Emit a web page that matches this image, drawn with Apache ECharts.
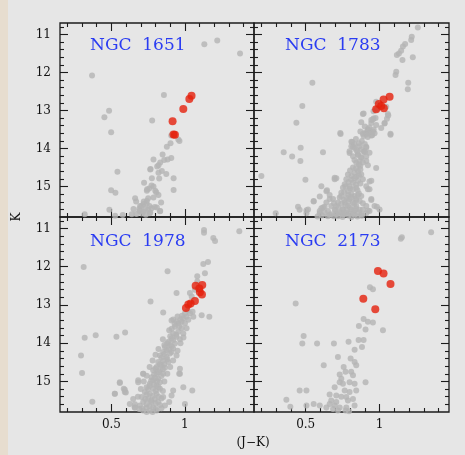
<!DOCTYPE html>
<html>
<head>
<meta charset="utf-8">
<script src="https://cdn.jsdelivr.net/npm/echarts@6/dist/echarts.min.js"></script>
<style>
  html, body { margin: 0; padding: 0; background: #e6e6e6; }
  #chart { width: 465px; height: 455px; }
</style>
</head>
<body>
<div id="chart"></div>
<script>
// Near-infrared colour-magnitude diagrams, K vs (J-K), for four LMC clusters.
// Each entry is [J-K, K]. Red points are the carbon/AGB stars.

const clusterNames = ['NGC  1651', 'NGC  1783', 'NGC  1978', 'NGC  2173'];

const ngc1651Gray = [
  [1.132,11.26],[1.22,11.16],[1.375,11.50],[0.368,12.08],[0.857,12.59],[0.484,13.01],[0.452,13.18],
  [0.498,13.57],[0.777,13.26],[0.907,13.66],[0.963,13.80],[0.955,13.76],[0.902,13.86],[0.877,13.95],
  [0.848,14.16],[0.786,14.29],[0.907,14.25],[0.882,14.29],[0.832,14.37],[0.82,14.44],[0.764,14.55],
  [0.843,14.59],[0.873,14.67],[0.82,14.64],[0.541,14.61],[0.923,14.78],[0.775,14.78],[0.825,14.79],
  [0.722,14.90],[0.786,15.00],[0.757,15.05],[0.741,15.11],[0.798,15.11],[0.923,15.09],[0.498,15.10],
  [0.527,15.16],[0.82,15.22],[0.661,15.31],[0.668,15.39],[0.786,15.29],[0.741,15.38],[0.718,15.46],
  [0.695,15.51],[0.759,15.51],[0.838,15.42],[0.809,15.55],[0.729,15.59],[0.691,15.64],[0.65,15.59],
  [0.638,15.73],[0.707,15.71],[0.764,15.68],[0.832,15.64],[0.486,15.61],[0.577,15.75],[0.525,15.77],
  [0.318,15.73],[0.67,15.72],[0.734,15.74],[0.75,15.61],[0.716,15.66],[0.689,15.59],[0.705,15.51],
  [0.739,15.45],[0.72,15.39],[0.75,15.31],[0.773,15.57],[0.795,15.54],[0.83,15.65],[0.761,15.70],
  [0.805,15.15],[0.743,15.07],[0.773,14.97],[0.766,14.54],[0.811,14.47],[0.859,14.30]
];
const ngc1651Red = [
  [1.045,12.61],[1.03,12.70],[0.989,12.96],[0.916,13.28],[0.922,13.63],[0.932,13.64]
];

const ngc1783Gray = [
  [1.259,10.82],[1.218,11.06],[1.214,11.15],[1.173,11.25],[1.158,11.32],[1.146,11.43],[1.131,11.50],
  [1.117,11.54],[1.155,11.67],[1.225,11.60],[1.113,11.98],[1.108,12.07],[1.194,12.27],[1.191,12.44],
  [0.545,12.27],[0.477,12.88],[0.437,13.32],[0.977,12.77],[1.045,12.90],[0.887,13.09],[1.056,13.09],
  [0.959,13.21],[0.944,13.25],[1.034,13.34],[0.977,13.38],[0.921,13.49],[0.91,13.60],[0.937,13.56],
  [0.966,13.60],[0.892,13.67],[0.736,13.62],[1.074,13.64],[0.466,13.98],[0.351,14.10],[0.408,14.21],
  [0.464,14.33],[0.617,14.10],[0.809,13.82],[0.82,13.95],[0.842,14.04],[0.91,13.95],[0.892,14.08],
  [0.854,14.17],[0.876,14.23],[0.91,14.21],[0.797,14.12],[0.2,14.72],[0.498,14.82],[0.448,15.53],
  [0.459,15.61],[0.516,15.60],[0.554,15.39],[0.595,15.26],[0.644,15.10],[0.662,15.22],[0.707,14.78],
  [0.606,15.57],[0.297,15.70],[0.932,14.87],[0.921,15.07],[0.944,15.35],[0.921,15.63],[0.982,15.53],
  [0.842,15.35],[0.887,15.44],[0.854,15.22],
  [0.892,13.08],[0.959,13.02],[0.982,12.96],[0.876,13.31],[0.944,13.33],[0.955,13.24],[0.973,13.20],
  [1.034,13.33],[1.05,13.22],[1.059,13.13],[1.011,13.46],[0.921,13.50],[0.899,13.59],[0.932,13.59],
  [0.955,13.55],[0.91,13.63],[0.887,13.61],[0.944,13.66],[1.074,13.61],[0.734,13.59],[0.815,13.83],
  [0.809,13.94],[0.831,13.89],[0.865,13.94],[0.91,13.98],[0.932,14.11],[0.899,14.07],[0.876,14.02],
  [0.797,14.07],[0.854,14.16],[0.876,14.24],[0.865,14.33],[0.842,14.37],[0.887,14.37],[0.91,14.33],
  [0.921,14.44],[0.869,14.46],[0.977,14.51],[0.82,14.50],[0.854,14.59],[0.831,14.64],[0.809,14.72],
  [0.842,14.74],[0.876,14.68],[0.887,14.81],[0.854,14.85],[0.82,14.90],[0.786,14.68],[0.775,14.81],
  [0.764,14.94],[0.752,15.03],[0.741,15.16],[0.73,15.29],[0.719,15.42],[0.707,15.51],[0.797,14.99],
  [0.82,15.07],[0.842,15.03],[0.786,15.12],[0.809,15.20],[0.831,15.25],[0.797,15.33],[0.775,15.29],
  [0.764,15.42],[0.82,15.42],[0.786,15.51],[0.842,15.51],[0.752,15.60],[0.809,15.60],[0.775,15.68],
  [0.831,15.64],[0.741,15.68],[0.865,15.38],[0.876,15.25],[0.91,14.99],[0.696,14.77],[0.606,14.99],
  [0.64,15.12],[0.662,15.33],[0.685,15.33],[0.64,15.42],[0.617,15.55],[0.673,15.51],[0.696,15.60],
  [0.651,15.64],[0.595,15.64],[0.628,15.68],[0.707,15.73],[0.673,15.73],[0.554,15.38],[0.696,14.81],
  [0.944,14.85],[0.932,15.07],[0.944,15.33],[0.91,15.51],[0.887,15.60],[0.876,15.73],[0.932,15.64],
  [1.0,15.60],[0.966,15.51],[0.505,15.62],[0.505,15.70],[0.595,15.70],[0.662,15.74],[0.707,15.70],
  [0.752,15.74],[0.797,15.70],[0.831,15.74],[0.865,15.61],[0.91,15.70],[0.628,15.53],[0.691,15.44],
  [0.83,14.30],[0.86,14.42],[0.84,14.52],[0.87,14.55],[0.80,14.58],[0.83,14.78],[0.86,14.70],
  [0.81,14.82],[0.79,14.88],[0.84,14.95],[0.87,14.92],[0.77,15.00],[0.80,15.05],[0.85,15.10],
  [0.76,15.15],[0.79,15.22],[0.86,15.18],[0.74,15.25],[0.81,15.28],[0.84,15.32],[0.76,15.35],
  [0.79,15.40],[0.74,15.45],[0.83,15.45],[0.77,15.50],[0.80,15.55],[0.72,15.55],[0.75,15.60],
  [0.78,15.62],[0.84,15.58],[0.70,15.62],[0.73,15.68],[0.76,15.72],[0.79,15.76],[0.82,15.70],
  [0.86,15.68],[0.69,15.78],[0.72,15.78],[0.75,15.80],[0.81,15.80],[0.85,15.79],[0.88,15.77],
  [0.65,15.78],[0.61,15.76],[0.58,15.79],
  [0.90,13.42],[0.93,13.45],[0.96,13.50],[0.87,13.55],[0.95,13.65],[0.92,13.70],[0.84,13.75],
  [0.88,13.80],[0.86,13.86],[0.90,13.88],[0.83,13.98],[0.85,14.08],[0.90,14.10],[0.82,14.20]
];
const ngc1783Red = [
  [1.068,12.64],[1.027,12.71],[0.995,12.83],[1.011,12.88],[1.029,12.94],[0.977,12.97]
];

const ngc1978Gray = [
  [1.13,11.04],[1.13,11.11],[1.193,11.25],[1.205,11.33],[1.37,11.07],[1.157,11.88],[1.125,11.93],
  [1.136,12.17],[1.084,12.25],[0.882,12.12],[0.311,12.01],[0.943,12.69],[0.766,12.91],[0.852,13.20],
  [1.114,13.27],[1.166,13.31],[0.293,14.32],[0.318,13.86],[0.393,13.79],[0.534,13.83],[0.593,13.72],
  [0.3,14.78],[0.37,15.53],[0.523,15.32],[0.557,15.04],[0.591,15.22],[0.598,15.29],[0.659,15.68],
  [0.682,15.02],[0.716,14.80],[1.0,15.59],[0.966,14.80],[1.05,15.24],
  [1.084,12.39],[1.046,12.78],[1.068,12.60],[1.034,12.69],
  [1.052,13.18],[1.034,13.22],[1.011,13.31],[0.989,13.35],[1.057,13.31],[0.977,13.44],[0.955,13.48],
  [1.0,13.48],[1.023,13.39],[0.909,13.41],[0.92,13.38],[0.943,13.44],[0.893,13.66],[1.011,13.61],
  [0.932,13.57],[0.977,13.61],[0.955,13.70],[0.92,13.75],[0.989,13.75],[0.943,13.83],[0.909,13.88],
  [0.966,13.90],[0.887,13.96],[0.932,14.01],[0.898,14.05],[0.864,14.10],[0.92,14.14],[0.875,14.18],
  [0.852,14.23],[0.898,14.27],[0.83,14.32],[0.875,14.36],[0.852,14.45],[0.887,14.49],[0.818,14.49],
  [0.841,14.58],[0.807,14.62],[0.864,14.64],[0.784,14.71],[0.83,14.71],[0.807,14.80],[0.852,14.80],
  [0.773,14.89],[0.818,14.93],[0.784,14.97],[0.83,15.02],[0.761,15.06],[0.807,15.11],[0.739,15.15],
  [0.784,15.19],[0.83,15.19],[0.727,15.28],[0.761,15.32],[0.807,15.32],[0.705,15.41],[0.75,15.46],
  [0.795,15.46],[0.716,15.54],[0.773,15.54],[0.818,15.54],[0.693,15.63],[0.739,15.68],[0.784,15.68],
  [0.716,15.76],[0.761,15.76],[0.807,15.76],
  [0.909,14.23],[0.943,14.32],[0.966,14.67],[0.961,14.80],[0.716,14.80],[0.682,14.97],[0.557,15.02],
  [0.584,15.19],[0.591,15.28],[0.523,15.32],[0.648,15.46],[0.893,15.54],[0.92,15.24],[0.909,15.37],
  [0.989,15.15],[0.864,15.63],[0.852,15.41],[0.625,15.59],[0.659,15.68],
  [0.95,13.30],[0.97,13.38],[0.93,13.50],[0.96,13.56],[0.91,13.62],[0.94,13.78],[0.90,13.82],
  [0.92,13.92],[0.88,14.00],[0.91,14.08],[0.86,14.05],[0.89,14.16],[0.86,14.28],[0.84,14.38],
  [0.88,14.42],[0.83,14.55],[0.86,14.55],[0.80,14.66],[0.85,14.68],[0.82,14.76],[0.79,14.82],
  [0.84,14.86],[0.80,14.92],[0.77,14.98],[0.81,15.00],[0.79,15.08],[0.76,15.12],[0.82,15.15],
  [0.75,15.20],[0.80,15.25],[0.74,15.34],[0.78,15.38],[0.82,15.40],[0.73,15.46],[0.77,15.50],
  [0.80,15.58],[0.74,15.60],[0.76,15.64],[0.71,15.70],[0.80,15.72],[0.74,15.80],[0.78,15.80],
  [0.84,15.70],[0.69,15.72],[1.02,13.15],[1.0,13.22],[0.98,13.28],
  [0.78,14.45],[0.92,14.45],[0.76,14.62],[0.90,14.62],[0.74,14.85],[0.88,14.80],[0.72,15.00],
  [0.86,15.00],[0.70,15.20],[0.85,15.25],[0.68,15.40],[0.84,15.45],[0.66,15.60],[0.83,15.62],
  [0.80,14.30],[0.95,14.20],[0.82,14.15],[0.97,14.00],[0.85,13.90],[0.99,13.85]
];
const ngc1978Red = [
  [1.073,12.50],[1.118,12.48],[1.098,12.57],[1.102,12.67],[1.116,12.73],[1.068,12.90],[1.039,12.96],
  [1.023,12.99],[1.007,13.08]
];

const ngc2173Gray = [
  [1.151,11.23],[1.144,11.27],[1.349,11.10],[0.935,12.54],[0.955,12.59],[0.432,12.96],[0.892,13.37],
  [0.921,13.44],[0.955,13.46],[0.86,13.55],[0.905,13.64],[1.023,13.66],[0.486,13.81],[0.477,14.01],
  [0.577,14.01],[0.691,14.01],[0.79,13.96],[0.858,13.92],[0.892,13.92],[0.831,14.17],[0.881,14.10],
  [0.718,14.36],[0.804,14.40],[0.831,14.49],[0.842,14.58],[0.622,14.58],[0.757,14.62],[0.77,14.75],
  [0.808,14.75],[0.82,14.84],[0.73,14.82],[0.741,14.93],[0.73,15.02],[0.752,15.06],[0.797,15.02],
  [0.831,15.06],[0.905,15.02],[0.696,15.15],[0.764,15.24],[0.797,15.28],[0.842,15.24],[0.459,15.24],
  [0.505,15.24],[0.662,15.34],[0.707,15.37],[0.741,15.40],[0.775,15.41],[0.82,15.46],[0.786,15.50],
  [0.369,15.48],[0.673,15.50],[0.707,15.54],[0.662,15.59],[0.696,15.63],[0.73,15.68],[0.685,15.72],
  [0.718,15.76],[0.831,15.63],[0.77,15.76],[0.793,15.78],[0.396,15.66],[0.353,15.81],[0.505,15.63],
  [0.554,15.59],[0.595,15.63],[0.64,15.68],[0.775,15.68]
];
const ngc2173Red = [
  [0.989,12.11],[1.027,12.18],[1.074,12.45],[0.89,12.84],[0.971,13.11]
];

// Axis ranges and label values
const X_MIN = 0.15, X_MAX = 1.47;
const Y_MIN = 10.7, Y_MAX = 15.8;
const xLabelValues = [0.5, 1];
const yLabelValues = [11, 12, 13, 14, 15];

// Tick rulers: evenly spaced category slots spanning each axis range
// (0.01 steps in J-K, 0.1 steps in K) so ticks land on round values.
const X_STEP = 0.01, Y_STEP = 0.1;
const xSlots = [], ySlots = [];
for (let i = 0; i <= Math.round((X_MAX - X_MIN) / X_STEP); i++) xSlots.push(String(i));
for (let i = 0; i <= Math.round((Y_MAX - Y_MIN) / Y_STEP); i++) ySlots.push(String(i));

const isMult = (v, m) => Math.abs(v / m - Math.round(v / m)) < 1e-6;
const xAt = i => X_MIN + i * X_STEP;
const yAt = i => Y_MIN + i * Y_STEP;
const xMajorTick = i => i > 0 && i < xSlots.length - 1 && isMult(xAt(i), 0.5);
const xMinorTick = i => i > 0 && i < xSlots.length - 1 && isMult(xAt(i), 0.1) && !isMult(xAt(i), 0.5);
const yMajorTick = i => i > 0 && i < ySlots.length - 1 && isMult(yAt(i), 1);
const yMinorTick = i => i > 0 && i < ySlots.length - 1 && isMult(yAt(i), 0.2) && !isMult(yAt(i), 1);

const grayPanels = [ngc1651Gray, ngc1783Gray, ngc1978Gray, ngc2173Gray];
const redPanels = [ngc1651Red, ngc1783Red, ngc1978Red, ngc2173Red];

const INK = '#1c1c1c';
const SERIF = 'DejaVu Serif';

const grids = [
  { left: 60,  top: 23,  width: 194, height: 194 },
  { left: 254, top: 23,  width: 195, height: 194 },
  { left: 60,  top: 217, width: 194, height: 195 },
  { left: 254, top: 217, width: 195, height: 195 }
].map(g => Object.assign(g, { show: true, borderColor: INK, borderWidth: 1.3,
                              backgroundColor: 'transparent' }));

function ruler(g, slots, position, test, len, inverse) {
  return {
    type: 'category', gridIndex: g, data: slots, position: position,
    boundaryGap: false, inverse: !!inverse,
    axisLine: { show: false }, axisLabel: { show: false }, splitLine: { show: false },
    axisTick: { show: true, inside: true, length: len, interval: test,
                lineStyle: { color: INK, width: 1.1 } }
  };
}

const xAxes = [], yAxes = [], series = [];
for (let g = 0; g < 4; g++) {
  xAxes.push({
    type: 'value', gridIndex: g, min: X_MIN, max: X_MAX, position: 'bottom',
    splitLine: { show: false }, axisLine: { show: false, onZero: false },
    axisTick: { show: false },
    axisLabel: { show: g >= 2, customValues: xLabelValues, margin: 7, color: '#111',
                 fontFamily: SERIF, fontSize: 12 }
  });
  xAxes.push(ruler(g, xSlots, 'bottom', xMajorTick, 8));
  xAxes.push(ruler(g, xSlots, 'bottom', xMinorTick, 4));
  xAxes.push(ruler(g, xSlots, 'top', xMajorTick, 8));
  xAxes.push(ruler(g, xSlots, 'top', xMinorTick, 4));

  yAxes.push({
    type: 'value', gridIndex: g, min: Y_MIN, max: Y_MAX, inverse: true, position: 'left',
    splitLine: { show: false }, axisLine: { show: false, onZero: false },
    axisTick: { show: false },
    axisLabel: { show: g % 2 === 0, customValues: yLabelValues, margin: 9, color: '#111',
                 fontFamily: SERIF, fontSize: 12 }
  });
  yAxes.push(ruler(g, ySlots, 'left', yMajorTick, 8, true));
  yAxes.push(ruler(g, ySlots, 'left', yMinorTick, 4, true));
  yAxes.push(ruler(g, ySlots, 'right', yMajorTick, 8, true));
  yAxes.push(ruler(g, ySlots, 'right', yMinorTick, 4, true));

  series.push({
    type: 'scatter', xAxisIndex: g * 5, yAxisIndex: g * 5,
    data: grayPanels[g], symbolSize: 6, silent: true,
    itemStyle: { color: '#b4b4b4' }, z: 2
  });
  series.push({
    type: 'scatter', xAxisIndex: g * 5, yAxisIndex: g * 5,
    data: redPanels[g], symbolSize: 8, silent: true,
    itemStyle: { color: '#e5200c' }, z: 3
  });
}

// Cluster names and axis titles
const labelPos = [[90, 46], [285, 46], [90, 242], [285, 242]];
const graphics = [
  { type: 'rect', left: 0, top: 0, shape: { width: 8, height: 455 },
    style: { fill: '#e7ddcf' }, z: -1 },
  { type: 'text', x: 17, y: 217, rotation: Math.PI / 2,
    style: { text: 'K', font: '12px "DejaVu Serif"', fill: '#111',
             textAlign: 'center', textVerticalAlign: 'middle' } },
  { type: 'text', x: 253, y: 443,
    style: { text: '(J\u2212K)', font: '12px "DejaVu Serif"', fill: '#111',
             textAlign: 'center', textVerticalAlign: 'middle' } }
];
clusterNames.forEach((name, i) => {
  graphics.push({
    type: 'text', x: labelPos[i][0], y: labelPos[i][1], z: 10,
    style: { text: name, font: '17px "DejaVu Serif"', fill: '#2a3cf2',
             textAlign: 'left', textVerticalAlign: 'middle' }
  });
});

const chart = echarts.init(document.getElementById('chart'), null, { renderer: 'canvas' });
chart.setOption({
  backgroundColor: '#e6e6e6',
  animation: false,
  grid: grids,
  xAxis: xAxes,
  yAxis: yAxes,
  series: series,
  graphic: graphics
});
</script>
</body>
</html>
